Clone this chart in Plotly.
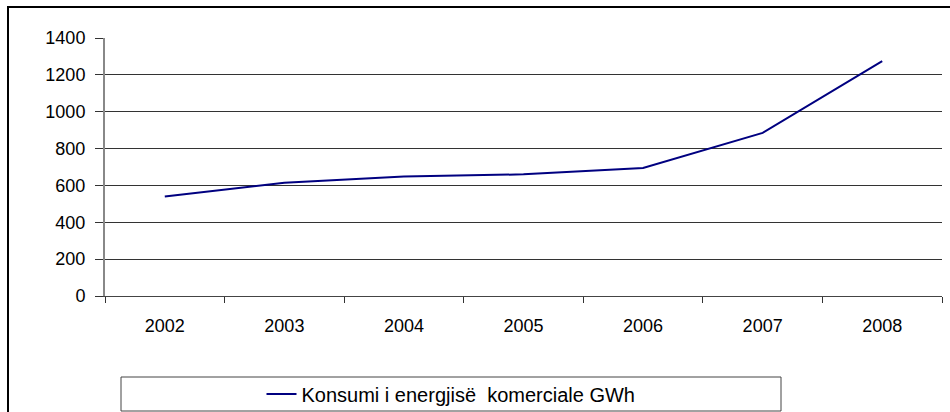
import plotly.graph_objects as go

years = ["2002", "2003", "2004", "2005", "2006", "2007", "2008"]
consumption = [540, 615, 648, 660, 695, 885, 1275]
y_ticks = [0, 200, 400, 600, 800, 1000, 1200, 1400]
series_name = "Konsumi i energjisë \u00a0komerciale GWh"

W, H = 950, 412
L, R, T, B = 105, 8, 38, 116
pw, ph = W - L - R, H - T - B


def px_x(p):
    return (p - L) / pw


def px_y(p):
    return (H - B - p) / ph


fig = go.Figure()
fig.add_trace(go.Scatter(
    x=years, y=consumption, mode="lines", name=series_name,
    line=dict(color="#000080", width=2),
))

fig.update_layout(
    width=W, height=H,
    margin=dict(l=L, r=R, t=T, b=B, pad=0, autoexpand=False),
    paper_bgcolor="white", plot_bgcolor="white",
    font=dict(family="Liberation Sans, Arial, sans-serif", size=18, color="black"),
    showlegend=True,
    legend=dict(
        xref="container", yref="container",
        x=451 / W, y=(H - 394) / H, xanchor="center", yanchor="middle",
        orientation="h", bgcolor="rgba(0,0,0,0)", borderwidth=0,
        font=dict(size=20, color="black"),
    ),
    xaxis=dict(
        type="category", range=[-0.5, len(years) - 0.5],
        showgrid=False, tickson="boundaries",
        ticks="outside", ticklen=6, tickcolor="#333", tickwidth=1,
        showline=True, linecolor="#444", linewidth=1,
        zeroline=False, fixedrange=True, ticklabelstandoff=13,
    ),
    yaxis=dict(
        range=[0, 1400], tickvals=y_ticks, ticktext=[str(v) for v in y_ticks],
        showgrid=True, gridcolor="#333", gridwidth=1.2,
        ticks="outside", ticklen=8, tickcolor="#333", tickwidth=1,
        showline=True, linecolor="#888", linewidth=2,
        zeroline=False, fixedrange=True, ticklabelstandoff=6,
    ),
    shapes=[
        dict(type="rect", xref="paper", yref="paper",
             x0=px_x(8), x1=px_x(970), y0=px_y(430), y1=px_y(7),
             line=dict(color="black", width=2), layer="below"),
        dict(type="rect", xref="paper", yref="paper",
             x0=px_x(121), x1=px_x(781), y0=px_y(411), y1=px_y(377),
             line=dict(color="#444", width=1), layer="below"),
    ],
)

fig.write_html(
    "out.html",
    config={"displayModeBar": False},
    post_script="document.body.style.margin='0';document.body.style.overflow='hidden';",
)
